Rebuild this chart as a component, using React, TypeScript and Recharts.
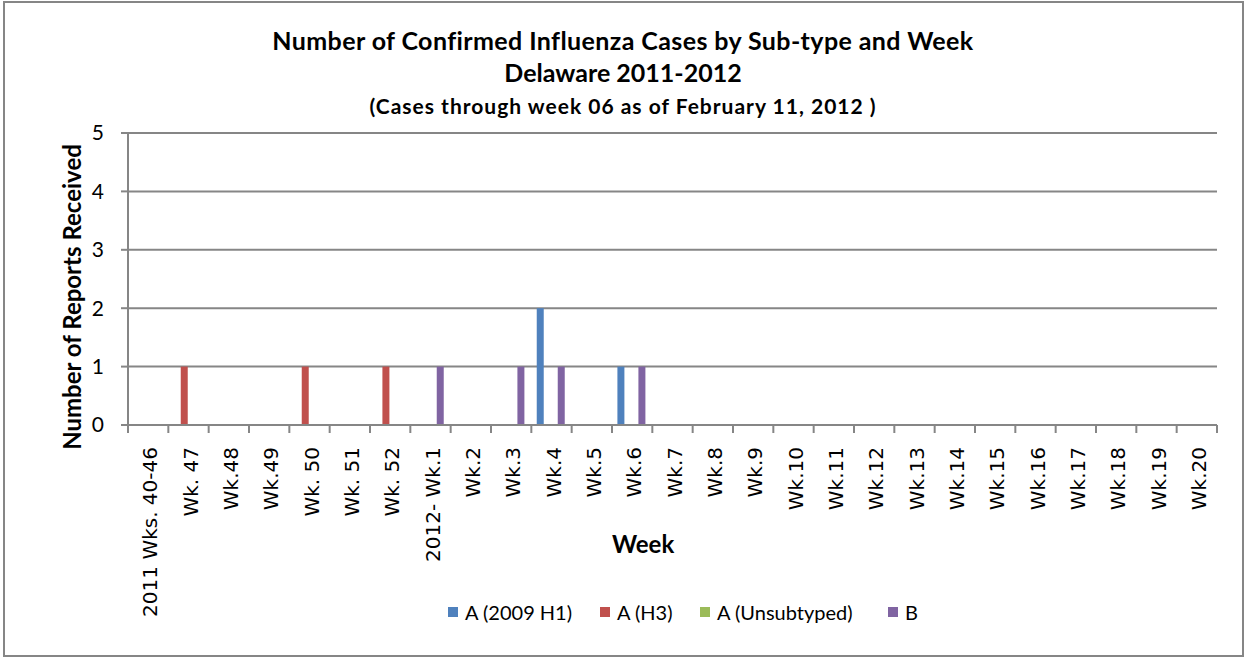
import React from "react"
import { BarChart, Bar, XAxis, YAxis, CartesianGrid, Legend } from "recharts"

const weeks = [
  "2011 Wks. 40-46", "Wk. 47", "Wk.48", "Wk.49", "Wk. 50", "Wk. 51", "Wk. 52",
  "2012- Wk.1", "Wk.2", "Wk.3", "Wk.4", "Wk.5", "Wk.6", "Wk.7", "Wk.8", "Wk.9",
  "Wk.10", "Wk.11", "Wk.12", "Wk.13", "Wk.14", "Wk.15", "Wk.16", "Wk.17",
  "Wk.18", "Wk.19", "Wk.20",
]

const h1 = [0, 0, 0, 0, 0, 0, 0, 0, 0, 0, 2, 0, 1, 0, 0, 0, 0, 0, 0, 0, 0, 0, 0, 0, 0, 0, 0]
const h3 = [0, 1, 0, 0, 1, 0, 1, 0, 0, 0, 0, 0, 0, 0, 0, 0, 0, 0, 0, 0, 0, 0, 0, 0, 0, 0, 0]
const unsubtyped = [0, 0, 0, 0, 0, 0, 0, 0, 0, 0, 0, 0, 0, 0, 0, 0, 0, 0, 0, 0, 0, 0, 0, 0, 0, 0, 0]
const typeB = [0, 0, 0, 0, 0, 0, 0, 1, 0, 1, 1, 0, 1, 0, 0, 0, 0, 0, 0, 0, 0, 0, 0, 0, 0, 0, 0]

const yTicks = [0, 1, 2, 3, 4, 5]

const series = [
  { key: "h1", name: "A (2009 H1)", color: "#4F81BD" },
  { key: "h3", name: "A (H3)", color: "#C0504D" },
  { key: "unsub", name: "A (Unsubtyped)", color: "#9BBB59" },
  { key: "b", name: "B", color: "#8064A2" },
]

const data = weeks.map((week, i) => ({
  week,
  h1: h1[i],
  h3: h3[i],
  unsub: unsubtyped[i],
  b: typeB[i],
}))

const W = 1246
const H = 658
const plotLeft = 128
const plotRight = 1217
const plotTop = 133
const plotBottom = 425
const xAxisHeight = 190
const yAxisWidth = 60
const band = (plotRight - plotLeft) / weeks.length
const grey = "#868686"
// left edge of each legend swatch, as in the original
const legendLeft = [448, 600, 700, 888]

function WeekTick(props: any) {
  const { x, y, payload, index } = props
  const left = x - band / 2
  return (
    <g>
      <line x1={left} y1={y} x2={left} y2={y + 8} stroke={grey} strokeWidth={2} />
      {index === weeks.length - 1 && (
        <line x1={x + band / 2} y1={y} x2={x + band / 2} y2={y + 8} stroke={grey} strokeWidth={2} />
      )}
      <text
        transform={`translate(${x + 2},${y + 22}) rotate(-90)`}
        textAnchor="end"
        dy="0.35em"
        fontFamily="DejaVu Sans"
        fontSize={20}
        fill="#000"
      >
        {payload.value}
      </text>
    </g>
  )
}

function LegendItems() {
  return (
    <div style={{ position: "relative", width: W, height: 26 }}>
      {series.map((s, i) => (
        <div
          key={s.key}
          style={{
            position: "absolute",
            left: legendLeft[i],
            top: 0,
            display: "flex",
            alignItems: "center",
            height: 26,
            fontFamily: "Lato",
            fontSize: 20,
            color: "#000",
            whiteSpace: "nowrap",
          }}
        >
          <span style={{ display: "inline-block", width: 10, height: 10, background: s.color, marginRight: 7 }} />
          {s.name}
        </div>
      ))}
    </div>
  )
}

const textBase: React.CSSProperties = {
  position: "absolute",
  fontFamily: "Lato",
  fontWeight: 700,
  color: "#000",
  whiteSpace: "nowrap",
  lineHeight: 1.2,
}

export default function App() {
  return (
    <div style={{ position: "absolute", left: 0, top: 0, width: W, height: H, background: "#fff" }}>
      <div
        style={{
          position: "absolute",
          left: 3,
          top: 1,
          width: 1241,
          height: 656,
          boxSizing: "border-box",
          border: `2px solid ${grey}`,
        }}
      />
      <BarChart
        width={W}
        height={H}
        data={data}
        barCategoryGap="13.4%"
        barGap={0}
        margin={{
          top: plotTop,
          right: W - plotRight,
          bottom: H - plotBottom - xAxisHeight,
          left: plotLeft - yAxisWidth,
        }}
        style={{ position: "absolute", left: 0, top: 0 }}
      >
        <CartesianGrid vertical={false} stroke={grey} strokeWidth={2} />
        <XAxis
          dataKey="week"
          interval={0}
          height={xAxisHeight}
          tickLine={false}
          tickSize={0}
          tickMargin={0}
          axisLine={{ stroke: grey, strokeWidth: 2 }}
          tick={<WeekTick />}
        />
        <YAxis
          domain={[0, 5]}
          ticks={yTicks}
          width={yAxisWidth}
          tickSize={7}
          tickMargin={17}
          tickLine={{ stroke: grey, strokeWidth: 2 }}
          axisLine={{ stroke: grey, strokeWidth: 2 }}
          tick={{ fill: "#000", fontFamily: "Lato", fontSize: 21 }}
        />
        <Legend
          layout="horizontal"
          verticalAlign="middle"
          align="center"
          wrapperStyle={{ top: 599, left: 0, width: W }}
          content={<LegendItems />}
        />
        {series.map((s) => (
          <Bar key={s.key} dataKey={s.key} name={s.name} fill={s.color} isAnimationActive={false} />
        ))}
      </BarChart>
      <div style={{ ...textBase, left: 0, width: W, top: 25, textAlign: "center", fontSize: 25, letterSpacing: 0.4 }}>
        Number of Confirmed Influenza Cases by Sub-type and Week
      </div>
      <div style={{ ...textBase, left: 0, width: W, top: 57, textAlign: "center", fontSize: 25 }}>
        Delaware 2011-2012
      </div>
      <div style={{ ...textBase, left: 0, width: W, top: 93, textAlign: "center", fontSize: 21, letterSpacing: 1 }}>
        (Cases through week 06 as of February 11, 2012 )
      </div>
      <div
        style={{
          ...textBase,
          left: 72,
          top: 297,
          fontSize: 24,
          transform: "translate(-50%, -50%) rotate(-90deg)",
        }}
      >
        Number of Reports Received
      </div>
      <div style={{ ...textBase, left: 612, top: 530, fontSize: 24 }}>Week</div>
    </div>
  )
}
